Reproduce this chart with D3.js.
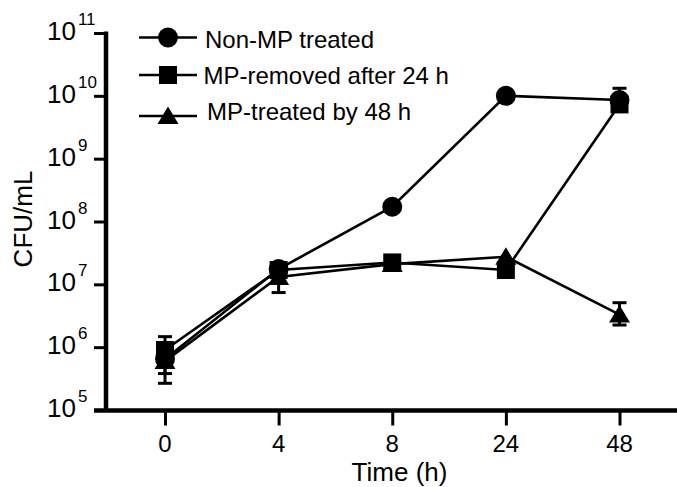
<!DOCTYPE html>
<html>
<head>
<meta charset="utf-8">
<script src="https://cdn.jsdelivr.net/npm/d3@7"></script>
<style>
  body { margin: 0; background: #fff; }
  svg { display: block; font-family: "Liberation Sans", Arial, sans-serif; }
</style>
</head>
<body>
<svg id="chart" width="677" height="487"></svg>
<script>
// time points (categorical, evenly spaced)
const times = ['0', '4', '8', '24', '48'];
const yTicks = [5, 6, 7, 8, 9, 10, 11];

// CFU/mL per series
const nonMP = [6.5e5, 1.75e7, 1.72e8, 1.0e10, 8.6e9];
const mpRemoved = [9e5, 1.69e7, 2.23e7, 1.69e7, 7.3e9];
const mpTreated = [6e5, 1.31e7, 2.1e7, 2.75e7, 3.3e6];

// error bar ends [low, high], null where not visible
const nonMPErr = [[5e5, 9e5], null, null, null, [7e9, 1.32e10]];
const mpRemovedErr = [[3.8e5, 1.47e6], null, null, null, null];
const mpTreatedErr = [[2.66e5, 9e5], [7.4e6, 1.9e7], null, null, [2.25e6, 5.1e6]];

const seriesNames = ['Non-MP treated', 'MP-removed after 24 h', 'MP-treated by 48 h'];

let svg = d3.select('#chart');

let x = d3.scalePoint().domain(times).range([165, 619.5]);
let y = d3.scaleLog().domain([1e5, 1e11]).range([410, 33]);

const shapes = {
  circle: sel => sel.append('circle').attr('r', 10),
  square: sel => sel.append('rect').attr('x', -9).attr('y', -9).attr('width', 18).attr('height', 18),
  triangle: sel => sel.append('path').attr('d', 'M0,-9.5L10.5,8L-10.5,8Z')
};

let series = [
  { name: seriesNames[0], values: nonMP, err: nonMPErr, shape: 'circle' },
  { name: seriesNames[1], values: mpRemoved, err: mpRemovedErr, shape: 'square' },
  { name: seriesNames[2], values: mpTreated, err: mpTreatedErr, shape: 'triangle' }
];

// axes
let yAxis = d3.axisLeft(y).tickValues(yTicks.map(p => Math.pow(10, p))).tickSize(14).tickFormat('');
svg.append('g').attr('transform', 'translate(108,0)').call(yAxis)
  .call(g => g.select('.domain').attr('d', 'M-2,31.5V410').attr('stroke-width', 4.5).attr('stroke', '#000'))
  .call(g => g.selectAll('.tick line').attr('stroke-width', 3).attr('stroke', '#000'));

let xAxis = d3.axisBottom(x).tickSize(15).tickFormat('');
svg.append('g').attr('transform', 'translate(0,410.5)').call(xAxis)
  .call(g => g.select('.domain').attr('d', 'M94,0H677').attr('stroke-width', 4.5).attr('stroke', '#000'))
  .call(g => g.selectAll('.tick line').attr('stroke-width', 3).attr('stroke', '#000'));

// y tick labels 10^n
let yl = svg.append('g').selectAll('text').data(yTicks).enter().append('text')
  .attr('x', 47).attr('y', d => y(Math.pow(10, d)) + 7)
  .attr('font-size', 26);
yl.append('tspan').text('10');
yl.append('tspan').attr('font-size', 17).attr('dx', 2).attr('dy', -15).text(d => d);

// x tick labels
svg.append('g').selectAll('text').data(times).enter().append('text')
  .attr('x', d => x(d)).attr('y', 451.5)
  .attr('text-anchor', 'middle').attr('font-size', 24)
  .text(d => d);

// axis titles
svg.append('text').attr('transform', 'translate(32,219) rotate(-90)')
  .attr('text-anchor', 'middle').attr('font-size', 26).text('CFU/mL');
svg.append('text').attr('x', 399.5).attr('y', 481)
  .attr('text-anchor', 'middle').attr('font-size', 26).text('Time (h)');

let line = d3.line().x((d, i) => x(times[i])).y(d => y(d));

series.forEach(s => {
  let g = svg.append('g');
  g.append('path').datum(s.values).attr('d', line)
    .attr('fill', 'none').attr('stroke', '#000').attr('stroke-width', 2.6);

  let errs = s.err.map((e, i) => e ? { t: times[i], lo: e[0], hi: e[1] } : null).filter(e => e);
  let eb = g.selectAll('.err').data(errs).enter().append('g')
    .attr('transform', d => `translate(${x(d.t)},0)`)
    .attr('stroke', '#000').attr('stroke-width', 3);
  eb.append('line').attr('y1', d => y(d.lo)).attr('y2', d => y(d.hi));
  eb.append('line').attr('x1', -7).attr('x2', 7).attr('y1', d => y(d.lo)).attr('y2', d => y(d.lo));
  eb.append('line').attr('x1', -7).attr('x2', 7).attr('y1', d => y(d.hi)).attr('y2', d => y(d.hi));

  let pts = g.selectAll('.pt').data(s.values).enter().append('g')
    .attr('transform', (d, i) => `translate(${x(times[i])},${y(d)})`)
    .attr('fill', '#000');
  shapes[s.shape](pts);
});

// legend
let legendY = [37.5, 75, 116];
let legendTextX = [205, 203.5, 207];
let legendTextY = [47.5, 83.5, 119.5];
let lg = svg.append('g').selectAll('g').data(series).enter().append('g');
lg.append('line').attr('x1', 139).attr('x2', 197)
  .attr('y1', (d, i) => legendY[i]).attr('y2', (d, i) => legendY[i])
  .attr('stroke', '#000').attr('stroke-width', 2.6);
lg.each(function(d, i) {
  let m = d3.select(this).append('g')
    .attr('transform', `translate(168,${legendY[i]})`).attr('fill', '#000');
  shapes[d.shape](m);
});
lg.append('text').attr('x', (d, i) => legendTextX[i]).attr('y', (d, i) => legendTextY[i])
  .attr('font-size', 24).text(d => d.name);
</script>
</body>
</html>
